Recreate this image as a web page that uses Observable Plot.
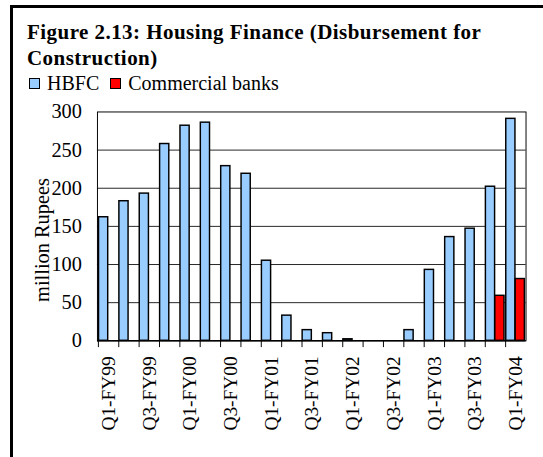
<!DOCTYPE html>
<html>
<head>
<meta charset="utf-8">
<script src="https://cdn.jsdelivr.net/npm/d3@7"></script>
<script src="https://cdn.jsdelivr.net/npm/@observablehq/plot@0.6"></script>
<style>
  html, body { margin: 0; padding: 0; background: #fff; }
  body { width: 543px; height: 457px; overflow: hidden; position: relative; font-family: "Liberation Serif", "Times New Roman", serif; color: #000; }
  #frame { position: absolute; left: 10px; top: 5px; width: 620px; height: 520px; border-left: 3px solid #000; border-top: 3px solid #000; box-sizing: border-box; }
  #title { position: absolute; left: 27px; top: 19px; font-weight: bold; font-size: 21px; line-height: 26.4px; letter-spacing: 0.45px; white-space: nowrap; }
  #legend { position: absolute; left: 29px; top: 71px; font-size: 20px; line-height: 24px; white-space: nowrap; display: flex; align-items: center; }
  .sw { display: inline-block; width: 9px; height: 9px; border: 1px solid #000; margin-right: 7px; }
  .item { display: inline-flex; align-items: center; margin-right: 11px; }
  #chart { position: absolute; left: 0; top: 95px; }
</style>
</head>
<body>
<div id="frame"></div>
<div id="title">Figure 2.13: Housing Finance (Disbursement for<br>Construction)</div>
<div id="legend"></div>
<div id="chart"></div>
<script>
// Categories (quarters)
const quarters = [
  "Q1-FY99","Q2-FY99","Q3-FY99","Q4-FY99",
  "Q1-FY00","Q2-FY00","Q3-FY00","Q4-FY00",
  "Q1-FY01","Q2-FY01","Q3-FY01","Q4-FY01",
  "Q1-FY02","Q2-FY02","Q3-FY02","Q4-FY02",
  "Q1-FY03","Q2-FY03","Q3-FY03","Q4-FY03",
  "Q1-FY04"
];
// Series values (million Rupees)
const hbfc  = [162, 183, 193, 258, 282, 286, 229, 219, 105, 33, 14, 10, 2, 0, 0, 14, 93, 136, 147, 202, 291];
const banks = [0, 0, 0, 0, 0, 0, 0, 0, 0, 0, 0, 0, 0, 0, 0, 0, 0, 0, 0, 59, 81];
// Series names and colours
const seriesNames = ["HBFC", "Commercial banks"];
const seriesColors = ["#99CCFF", "#FF0000"];
// Y tick values
const yTicks = [0, 50, 100, 150, 200, 250, 300];
const yLabel = "million Rupees";

// Legend
const legend = document.getElementById("legend");
seriesNames.forEach((name, i) => {
  const item = document.createElement("span");
  item.className = "item";
  const sw = document.createElement("span");
  sw.className = "sw";
  sw.style.background = seriesColors[i];
  item.appendChild(sw);
  item.appendChild(document.createTextNode(name));
  legend.appendChild(item);
});

const hbfcData = quarters.map((q, i) => ({q, v: hbfc[i]})).filter(d => d.v > 0);
const bankData = quarters.map((q, i) => ({q, v: banks[i]})).filter(d => d.v > 0);

const width = 560, height = 362;
const marginLeft = 100, marginRight = 18, marginTop = 17, marginBottom = 109;
const bw = (width - marginLeft - marginRight) / quarters.length;

const chart = Plot.plot({
  width, height, marginLeft, marginRight, marginTop, marginBottom,
  style: { fontFamily: "'Liberation Serif', 'Times New Roman', serif", fontSize: "21px", color: "#000", background: "transparent" },
  x: { type: "band", domain: quarters, padding: 0, axis: null },
  y: { domain: [0, 300], axis: null },
  marks: [
    Plot.gridY(yTicks.filter(t => t > 0 && t < 300), { stroke: "#222", strokeOpacity: 1, strokeWidth: 1 }),
    Plot.frame({ stroke: "#000", strokeWidth: 1 }),
    Plot.barY(hbfcData, { x: "q", y: "v", fill: seriesColors[0], stroke: "#000", strokeWidth: 1.5, insetLeft: 0.6, insetRight: bw / 2 + 0.4 }),
    Plot.barY(bankData, { x: "q", y: "v", fill: seriesColors[1], stroke: "#000", strokeWidth: 1.5, insetLeft: bw / 2 - 0.2, insetRight: 1.2 }),
    Plot.ruleY([0], { stroke: "#000", strokeWidth: 1.5 }),
    Plot.axisX({ tickSize: 7, tickFormat: () => "", dx: -bw / 2, stroke: "#000", label: null }),
    Plot.axisX({ tickSize: 0, tickPadding: 16, tickRotate: -90, fontSize: 20, tickFormat: q => /^Q[13]/.test(q) ? q : "", label: null }),
    Plot.axisY({ ticks: yTicks, tickSize: 0, tickPadding: 16, label: null }),
    Plot.text([yLabel], { text: d => d, frameAnchor: "left", textAnchor: "middle", lineAnchor: "middle", rotate: -90, dx: -57, dy: 14, fontSize: 21 })
  ]
});
document.getElementById("chart").appendChild(chart);
</script>
</body>
</html>
